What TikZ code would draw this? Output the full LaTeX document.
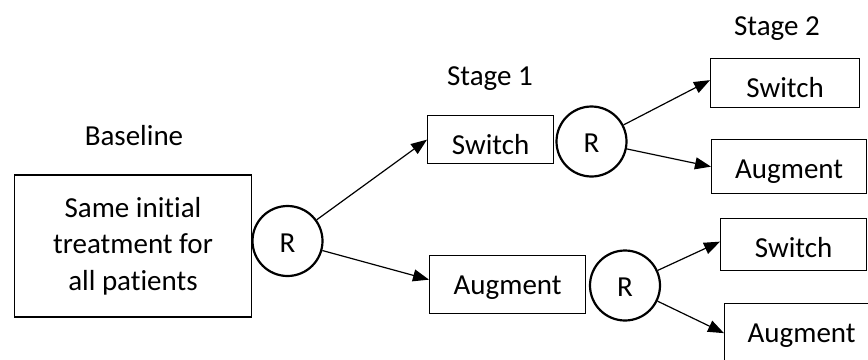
\documentclass[tikz,border=0pt]{standalone}
\usepackage{fontspec}
\setmainfont{Carlito}[Ligatures=NoCommon]
\usetikzlibrary{arrows.meta}
\begin{document}
\begin{tikzpicture}[x=1pt,y=-1pt,
  every node/.style={font=\fontsize{29}{36.7}\selectfont, inner sep=0pt},
  % a box of the given width and height, its text baseline 38.5pt below the top
  box/.style 2 args={draw, line width=1.3pt, rectangle, anchor=north west,
    minimum width=#1, text height=38.5pt, text depth=#2-38.5pt},
  rnode/.style={draw, line width=2.2pt, circle, minimum size=70pt,
    text height=22pt, text depth=0pt},
  heading/.style={anchor=base},
  link/.style={line width=1.2pt, -{Triangle[length=16pt,width=12pt]}}]
\useasboundingbox (0,0) rectangle (868,359);

% stage headings
\node[heading] (hbase) at (134,145) {Baseline};
\node[heading] (hs1) at (490,85) {Stage 1};
\node[heading] (hs2) at (777,35) {Stage 2};

% baseline treatment
\node[draw, line width=1.3pt, align=center, minimum width=237pt, minimum height=142pt]
  (base) at (133,246) {Same initial\\treatment for\\all patients};
\node[rnode] (r1) at (287.5,241) {R};

% stage 1
\node[box={126pt}{48pt}] (sw1) at (427,115) {Switch};
\node[box={156pt}{58pt}] (au1) at (429,255) {Augment};
\node[rnode] (r2) at (591.5,141.5) {R};
\node[rnode] (r3) at (625,285.5) {R};

% stage 2
\node[box={149pt}{49pt}] (sw2a) at (710,58) {Switch};
\node[box={155pt}{54pt}] (au2a) at (711,139) {Augment};
\node[box={146pt}{52pt}] (sw2b) at (720,218) {Switch};
\node[box={154pt}{59pt}] (au2b) at (724,303) {Augment};

% randomisation arrows
\draw[link] (r1) -- (sw1.west);
\draw[link] (r1) -- ([yshift=5pt]au1.west);
\draw[link] (r2) -- ([yshift=3pt]sw2a.west);
\draw[link] (r2) -- (au2a.west);
\draw[link] (r3) -- ([yshift=3pt]sw2b.west);
\draw[link] (r3) -- (au2b.west);
\end{tikzpicture}
\end{document}
